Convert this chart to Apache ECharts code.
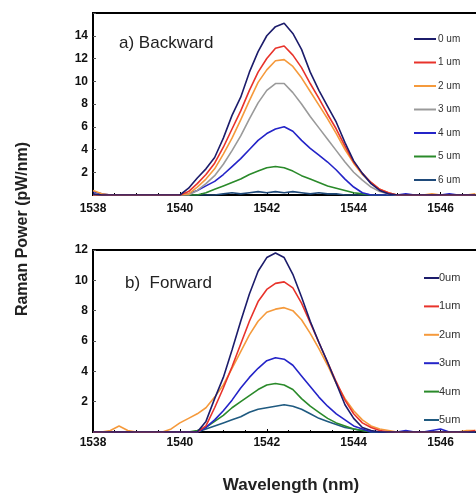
<!DOCTYPE html>
<html><head><meta charset="utf-8">
<script src="https://cdn.jsdelivr.net/npm/echarts@6/dist/echarts.min.js"></script>
<style>html,body{margin:0;padding:0;background:#fff;overflow:hidden}#c{width:476px;height:493px}</style>
</head><body><div id="c"></div>
<script>
// Wavelength grid (nm), step 0.2
const wavelengths = [1538.0,1538.2,1538.4,1538.6,1538.8,1539.0,1539.2,1539.4,1539.6,1539.8,
  1540.0,1540.2,1540.4,1540.6,1540.8,1541.0,1541.2,1541.4,1541.6,1541.8,
  1542.0,1542.2,1542.4,1542.6,1542.8,1543.0,1543.2,1543.4,1543.6,1543.8,
  1544.0,1544.2,1544.4,1544.6,1544.8,1545.0,1545.2,1545.4,1545.6,1545.8,
  1546.0,1546.2,1546.4,1546.6,1546.8];

// a) Backward
const backNames = ['0 um','1 um','2 um','3 um','4 um','5 um','6 um'];
const back0 = [0.1,0,0,0,0,0,0,0,0,0, 0,0.6,1.5,2.3,3.3,5.0,7.0,8.6,10.8,12.6, 14.0,14.8,15.1,14.2,12.8,10.8,9.2,7.8,6.4,4.6, 3.0,1.9,1.0,0.4,0.1,0,0,0,0,0, 0,0,0,0,0];
const back1 = [0,0,0,0,0,0,0,0,0,0, 0,0.3,1.0,1.8,2.8,4.2,5.8,7.4,9.2,10.8, 12.0,12.9,13.1,12.3,11.2,9.8,8.5,7.1,5.8,4.3, 2.9,1.9,1.1,0.5,0.2,0,0,0,0,0, 0,0,0,0,0];
const back2 = [0.4,0.1,0,0,0,0,0,0,0,0, 0,0.1,0.7,1.4,2.3,3.6,5.0,6.6,8.3,9.9, 11.0,11.8,11.9,11.3,10.3,9.1,7.9,6.7,5.4,4.0, 2.8,1.8,1.1,0.5,0.2,0,0,0,0,0.1, 0,0,0,0,0.1];
const back3 = [0,0,0,0,0,0,0,0,0,0, 0,0,0.4,1.0,1.7,2.7,3.9,5.2,6.7,8.1, 9.2,9.8,9.8,9.0,8.0,6.9,5.9,4.9,3.9,2.9, 2.0,1.3,0.7,0.3,0.1,0,0,0,0,0, 0,0,0,0,0];
const back4 = [0.3,0.1,0,0,0,0,0,0,0,0, 0,0.1,0.4,0.8,1.2,1.8,2.5,3.2,4.0,4.8, 5.4,5.8,6.0,5.6,4.8,4.1,3.5,2.9,2.2,1.4, 0.7,0.2,0,0,0,0,0.1,0,0,0, 0,0.1,0,0,0];
const back5 = [0,0,0,0,0,0,0,0,0,0, 0,0,0,0.2,0.5,0.8,1.1,1.4,1.8,2.1, 2.4,2.5,2.4,2.1,1.7,1.4,1.1,0.8,0.6,0.4, 0.2,0.1,0,0,0,0,0,0,0,0, 0,0,0,0,0];
const back6 = [0,0,0,0,0,0,0,0,0,0, 0,0,0,0,0,0.1,0.2,0.1,0.2,0.3, 0.2,0.3,0.2,0.3,0.2,0.1,0.2,0.1,0.1,0, 0,0,0,0,0,0,0,0,0,0, 0,0,0,0,0];
const backColors = ['#1c1c6b','#e8332b','#f59a3c','#9a9a9a','#2424c8','#2a8a2a','#1f4a7a'];

// b) Forward
const fwdNames = ['0um','1um','2um','3um','4um','5um'];
const fwd0 = [0,0,0,0,0,0,0,0,0,0, 0,0,0,0.7,2.2,3.6,5.4,7.3,9.1,10.6, 11.5,11.8,11.5,10.4,8.9,7.3,5.9,4.6,3.2,1.8, 0.9,0.3,0.1,0,0,0,0,0,0,0, 0,0,0,0,0];
const fwd1 = [0,0,0,0,0,0,0,0,0,0, 0,0,0,0.4,1.6,2.9,4.3,5.8,7.3,8.6, 9.4,9.8,9.9,9.5,8.5,7.2,5.9,4.6,3.3,2.1, 1.2,0.6,0.3,0.1,0,0,0,0,0,0, 0,0,0,0,0.1];
const fwd2 = [0,0,0.1,0.4,0.1,0,0,0,0,0.2, 0.6,0.9,1.2,1.6,2.3,3.1,4.2,5.3,6.4,7.3, 7.9,8.1,8.2,8.0,7.4,6.5,5.5,4.4,3.2,2.2, 1.4,0.8,0.4,0.2,0.1,0,0,0,0,0, 0,0,0,0.1,0.1];
const fwd3 = [0,0,0,0,0,0,0,0,0,0, 0,0,0,0.3,0.8,1.4,2.1,2.9,3.6,4.2, 4.7,4.9,4.8,4.4,3.7,3.0,2.3,1.7,1.2,0.8, 0.4,0.2,0,0,0,0,0.1,0,0,0.1, 0.2,0,0,0,0];
const fwd4 = [0,0,0,0,0,0,0,0,0,0, 0,0,0.1,0.3,0.7,1.1,1.6,2.0,2.4,2.8, 3.1,3.2,3.1,2.8,2.2,1.7,1.3,0.9,0.6,0.4, 0.2,0.1,0,0,0,0,0,0,0,0, 0,0,0,0,0];
const fwd5 = [0,0,0,0,0,0,0,0,0,0, 0,0,0,0.2,0.4,0.6,0.8,1.0,1.3,1.5, 1.6,1.7,1.8,1.7,1.5,1.2,0.9,0.7,0.5,0.3, 0.2,0.1,0,0,0,0,0,0,0,0, 0,0,0,0,0];
const fwdColors = ['#1c1c6b','#e8332b','#f59a3c','#2424c8','#2a8a2a','#1f5a80'];

const xTicks = [1538,1540,1542,1544,1546];
const backYTicks = [2,4,6,8,10,12,14];
const fwdYTicks = [2,4,6,8,10,12];

const backSeries = [back0,back1,back2,back3,back4,back5,back6];
const fwdSeries = [fwd0,fwd1,fwd2,fwd3,fwd4,fwd5];

const FONT = 'Liberation Sans, Arial, sans-serif';
function pairs(vals){ return wavelengths.map((w,i)=>[w, vals[i]]); }

function xAxis(gi, margin){
  return {type:'value', gridIndex:gi, min:1538, max:1547, interval:2,
    axisLine:{show:true, lineStyle:{color:'#000', width:2}},
    axisTick:{show:true, inside:true, length:3, lineStyle:{color:'#000'}},
    minorTick:{show:true, splitNumber:4, length:2, lineStyle:{color:'#000'}},
    splitLine:{show:false},
    axisLabel:{margin:margin, color:'#111', fontFamily:FONT, fontWeight:'bold', fontSize:12,
      formatter:v=> xTicks.indexOf(v)>=0 ? String(v) : ''}};
}
function yAxis(gi, max, ticks){
  return {type:'value', gridIndex:gi, min:0, max:max, interval:2,
    axisLine:{show:true, lineStyle:{color:'#000', width:2}},
    axisTick:{show:true, inside:true, length:3, lineStyle:{color:'#555'}},
    splitLine:{show:false},
    axisLabel:{margin:5, color:'#111', fontFamily:FONT, fontWeight:'bold', fontSize:12,
      formatter:v=> ticks.indexOf(v)>=0 ? String(v) : ''}};
}

const series = [];
backSeries.forEach((s,i)=>series.push({name:backNames[i], type:'line', xAxisIndex:0, yAxisIndex:0,
  data:pairs(s), showSymbol:false, symbol:'none', lineStyle:{width:1.6, color:backColors[i]}, itemStyle:{color:backColors[i]}, z:10-i}));
fwdSeries.forEach((s,i)=>series.push({name:fwdNames[i], type:'line', xAxisIndex:1, yAxisIndex:1,
  data:pairs(s), showSymbol:false, symbol:'none', lineStyle:{width:1.6, color:fwdColors[i]}, itemStyle:{color:fwdColors[i]}, z:10-i}));

const chart = echarts.init(document.getElementById('c'), null, {renderer:'canvas'});
chart.setOption({
  animation:false,
  backgroundColor:'#fff',
  grid:[
    {left:93, top:13, width:391, height:182, show:true, borderColor:'#000', borderWidth:2, backgroundColor:'transparent', outerBoundsMode:'none', containLabel:false},
    {left:93, top:250, width:391, height:182, show:true, borderColor:'#000', borderWidth:2, backgroundColor:'transparent', outerBoundsMode:'none', containLabel:false}
  ],
  xAxis:[xAxis(0,8), xAxis(1,5)],
  yAxis:[yAxis(0,16,backYTicks), yAxis(1,12,fwdYTicks)],
  legend:[
    {data:backNames, orient:'vertical', left:409, top:28, itemWidth:22, itemHeight:2, itemGap:11.5, icon:'rect',
      textStyle:{fontFamily:FONT, fontSize:10, color:'#333', lineHeight:12, padding:[0,0,0,-3]}},
    {data:fwdNames, orient:'vertical', left:419, top:267, itemWidth:15, itemHeight:2, itemGap:16.4, icon:'rect',
      textStyle:{fontFamily:FONT, fontSize:11, color:'#333', lineHeight:12, padding:[0,0,0,-5]}}
  ],
  graphic:[
    {type:'text', left:119, top:35, style:{text:'a) Backward', font:'17px '+FONT, fill:'#222'}},
    {type:'text', left:125, top:275, style:{text:'b)  Forward', font:'17px '+FONT, fill:'#222'}},
    {type:'text', x:23, y:229, rotation:Math.PI/2, style:{text:'Raman Power (pW/nm)', font:'bold 16px '+FONT, fill:'#222', align:'center', verticalAlign:'middle'}},
    {type:'text', x:291, y:485, style:{text:'Wavelength (nm)', font:'bold 17px '+FONT, fill:'#222', align:'center', verticalAlign:'middle'}}
  ],
  series:series
});
</script></body></html>
